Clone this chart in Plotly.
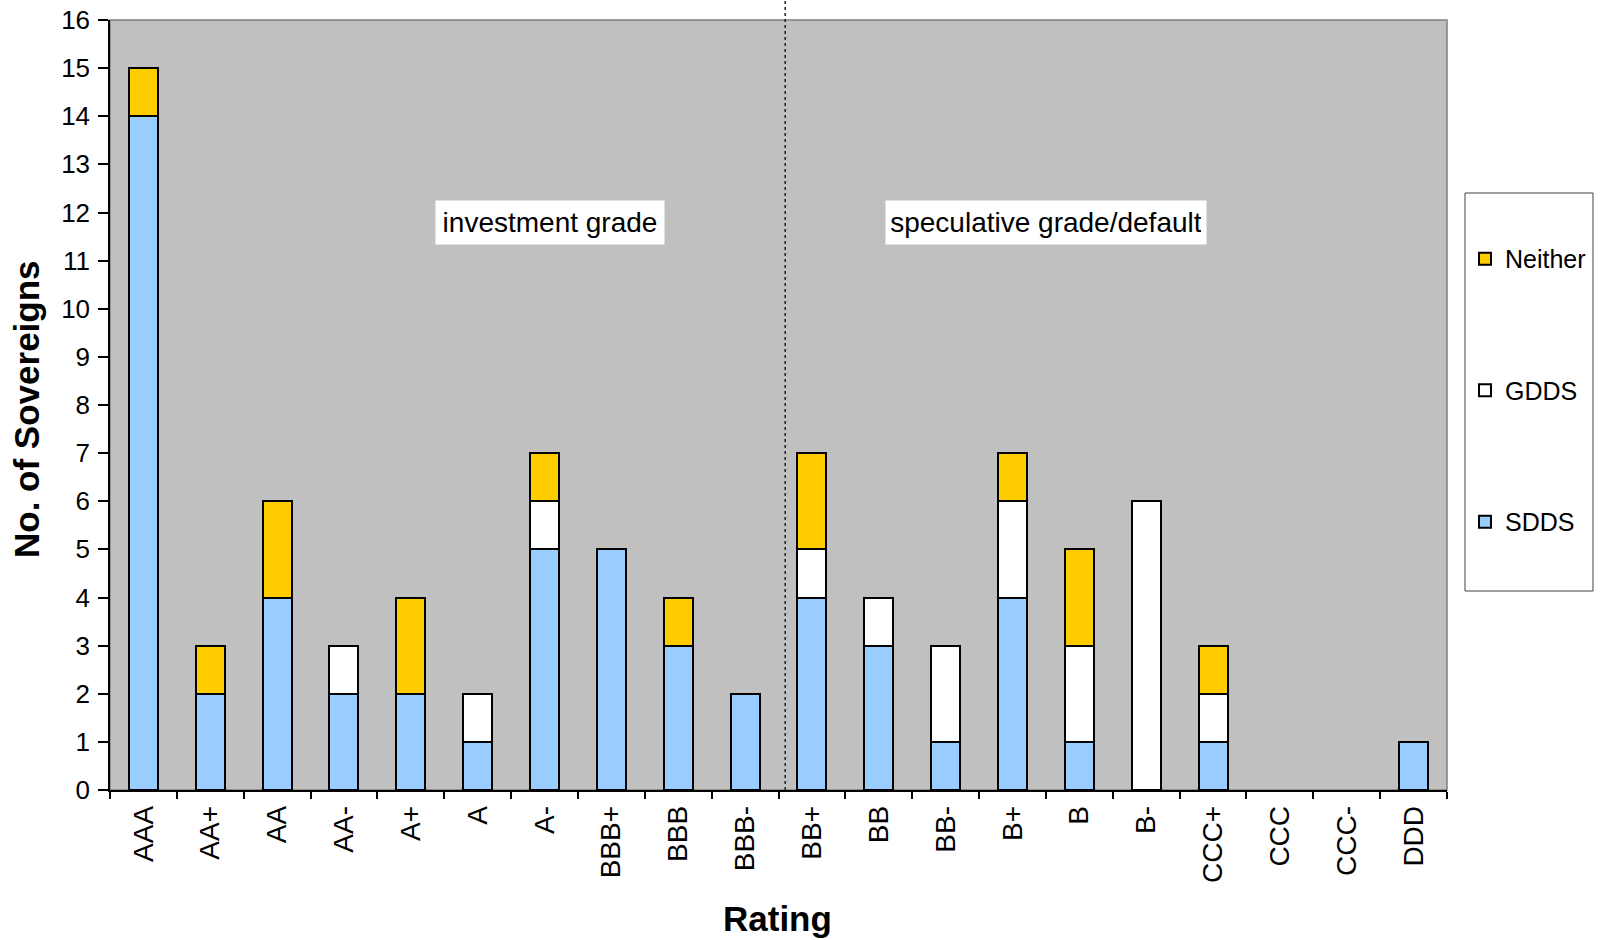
import plotly.graph_objects as go

# Sovereign counts by rating, split by data dissemination standard
ratings = ["AAA", "AA+", "AA", "AA-", "A+", "A", "A-", "BBB+", "BBB", "BBB-",
           "BB+", "BB", "BB-", "B+", "B", "B-", "CCC+", "CCC", "CCC-", "DDD"]
sdds = [14, 2, 4, 2, 2, 1, 5, 5, 3, 2, 4, 3, 1, 4, 1, 0, 1, 0, 0, 1]
gdds = [0, 0, 0, 1, 0, 1, 1, 0, 0, 0, 1, 1, 2, 2, 2, 6, 1, 0, 0, 0]
neither = [1, 1, 2, 0, 2, 0, 1, 0, 1, 0, 2, 0, 0, 1, 2, 0, 1, 0, 0, 0]

FONT = "Liberation Sans, Arial, sans-serif"
outline = dict(color="black", width=2)


def nz(vals):
    # empty segments are left out instead of drawn as flat outlines
    return [v if v else None for v in vals]


fig = go.Figure()
fig.add_trace(go.Bar(x=ratings, y=nz(sdds), name="SDDS", legendgroup="a", legendrank=3,
                     marker=dict(color="#99CCFF", line=outline)))
fig.add_trace(go.Bar(x=ratings, y=nz(gdds), name="GDDS", legendgroup="b", legendrank=2,
                     marker=dict(color="#FFFFFF", line=outline)))
fig.add_trace(go.Bar(x=ratings, y=nz(neither), name="Neither", legendgroup="c", legendrank=1,
                     marker=dict(color="#FFCC00", line=outline)))

W, H = 1604, 940
L, R, T, B = 110, 157, 20, 150
PW, PH = W - L - R, H - T - B


def px_x(px):
    return (px - L) / PW


def px_y(py):
    return (H - B - py) / PH


fig.update_layout(
    width=W, height=H,
    margin=dict(l=L, r=R, t=T, b=B),
    barmode="stack", bargap=0.566,
    paper_bgcolor="white", plot_bgcolor="#C0C0C0",
    font=dict(family=FONT, color="black"),
    showlegend=True,
    legend=dict(
        x=px_x(1465), xanchor="left", y=0.7195, yanchor="top",
        bgcolor="rgba(0,0,0,0)", borderwidth=0,
        traceorder="grouped", tracegroupgap=96,
        font=dict(size=25, family=FONT), itemwidth=30,
    ),
    xaxis=dict(
        type="category", tickson="boundaries", ticks="outside", ticklen=7,
        tickcolor="black", tickwidth=1.5, tickangle=-90,
        showline=True, linecolor="black", linewidth=1.5,
        tickfont=dict(size=28, family=FONT), ticklabelstandoff=3, automargin=False,
        showgrid=False, zeroline=False,
    ),
    yaxis=dict(
        range=[0, 16], dtick=1, ticks="outside", ticklen=10,
        tickcolor="black", tickwidth=1.5,
        showline=True, linecolor="black", linewidth=1.5,
        tickfont=dict(size=26, family=FONT), ticklabelstandoff=3, automargin=False,
        showgrid=False, zeroline=False,
    ),
)

# axis titles
fig.add_annotation(xref="paper", yref="paper", x=px_x(26), y=px_y(409), textangle=-90,
                   xanchor="center", yanchor="middle",
                   text="<b>No. of Sovereigns</b>", showarrow=False,
                   font=dict(size=35, family=FONT, color="black"))
fig.add_annotation(xref="paper", yref="paper", x=px_x(777), y=px_y(918),
                   xanchor="center", yanchor="middle",
                   text="<b>Rating</b>", showarrow=False,
                   font=dict(size=35, family=FONT, color="black"))

# plot area border (top/right)
fig.add_shape(type="rect", xref="paper", yref="paper", x0=0, x1=1, y0=0, y1=1,
              line=dict(color="#808080", width=1.5), layer="below")

# divider between investment and speculative grades
fig.add_shape(type="line", xref="x", yref="paper", x0=9.6, x1=9.6, y0=0, y1=px_y(0),
              line=dict(color="#222222", width=1.5, dash="dot"))

# legend frame
fig.add_shape(type="rect", xref="paper", yref="paper",
              x0=px_x(1465), x1=px_x(1593), y0=px_y(591), y1=px_y(193),
              line=dict(color="#404040", width=1), fillcolor="white", layer="below")

for txt, xc, wd in [("investment grade", 6.08, 218), ("speculative grade/default", 13.5, 310)]:
    fig.add_annotation(x=xc, y=11.8, xref="x", yref="y", text=txt, showarrow=False,
                       font=dict(size=28, family=FONT, color="black"),
                       bgcolor="white", width=wd, height=33, borderpad=5)

fig.write_html("out.html")
